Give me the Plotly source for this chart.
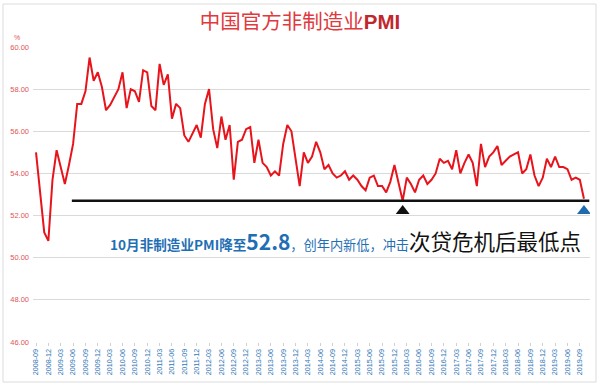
import plotly.graph_objects as go

# Monthly categories 2008-09 .. 2019-10
months = []
for y in range(2008, 2020):
    for m in range(1, 13):
        if (y == 2008 and m < 9) or (y == 2019 and m > 10):
            continue
        months.append(f"{y}-{m:02d}")

pmi_2008_2011 = [55.0, 53.1, 51.2, 50.8,
                 53.7, 55.1, 54.3, 53.5, 54.4, 55.4, 57.3, 57.3, 57.9, 59.5, 58.4, 58.8,
                 58.1, 57.0, 57.25, 57.6, 58.0, 58.8, 57.1, 58.0, 57.9, 57.4, 58.9, 58.8,
                 57.2, 57.0, 59.2, 58.2, 58.7, 56.6, 57.3, 57.1, 55.8, 55.5, 55.9, 56.3]
pmi_2012 = [55.7, 57.3, 58.0, 56.1, 55.2, 56.7, 55.6, 56.3, 53.7, 55.5, 55.6, 56.1]
pmi_2013 = [56.2, 54.5, 55.6, 54.5, 54.3, 53.9, 54.1, 53.9, 55.4, 56.3, 56.0, 54.6]
pmi_2014 = [53.4, 55.0, 54.5, 54.8, 55.5, 55.0, 54.2, 54.4, 54.0, 53.8, 53.9, 54.1]
pmi_2015 = [53.7, 53.9, 53.7, 53.4, 53.2, 53.8, 53.9, 53.4, 53.4, 53.1, 53.6, 54.4]
pmi_2016 = [53.5, 52.7, 53.8, 53.5, 53.1, 53.7, 53.9, 53.5, 53.7, 54.0, 54.7, 54.5]
pmi_2017 = [54.6, 54.2, 55.1, 54.0, 54.5, 54.9, 54.5, 53.4, 55.4, 54.3, 54.8, 55.0]
pmi_2018 = [55.3, 54.4, 54.6, 54.8, 54.9, 55.0, 54.0, 54.2, 54.9, 53.9, 53.4, 53.8]
pmi_2019 = [54.7, 54.3, 54.8, 54.3, 54.3, 54.2, 53.7, 53.8, 53.7, 52.8]

pmi = (pmi_2008_2011 + pmi_2012 + pmi_2013 + pmi_2014 + pmi_2015 +
       pmi_2016 + pmi_2017 + pmi_2018 + pmi_2019)

tick_labels = months[::3]
y_ticks = [46, 48, 50, 52, 54, 56, 58, 60]

low_level = 52.7
marker_months = ["2016-02", "2019-10"]
marker_level = 52.22

fig = go.Figure()
fig.add_trace(go.Scatter(x=months, y=pmi, mode="lines",
                         line=dict(color="#e8141c", width=2), hoverinfo="skip"))
# markers
fig.add_trace(go.Scatter(x=[marker_months[0]], y=[marker_level], mode="markers",
                         marker=dict(symbol="triangle-up", size=12, color="#111111"),
                         hoverinfo="skip"))
fig.add_trace(go.Scatter(x=[marker_months[1]], y=[marker_level], mode="markers",
                         marker=dict(symbol="triangle-up", size=12, color="#1f6bb0"),
                         hoverinfo="skip"))

fig.add_shape(type="line", xref="x", yref="y", x0=8.7, x1=134.3,
              y0=low_level, y1=low_level, line=dict(color="#111111", width=2.5))
# outer border
fig.add_shape(type="rect", xref="paper", yref="paper",
              x0=-30/557, x1=563/557, y0=(342-382)/295, y1=(342-4)/295,
              line=dict(color="#dcdcdc", width=1))

fig.update_layout(
    width=600, height=387,
    margin=dict(l=33, r=10, t=47, b=45, autoexpand=False),
    plot_bgcolor="white", paper_bgcolor="white",
    showlegend=False,
    font=dict(family="Arial, Liberation Sans, Noto Sans CJK SC"),
    title=dict(text="中国官方非制造业<b><span style='color:#c0282d'>PMI</span></b>",
               x=0.5, xanchor="center", y=1-22/387, yanchor="middle",
               font=dict(size=20.5, color="#e0393e",
                         family="Arial, Noto Sans CJK SC")),
    xaxis=dict(type="category", range=[-0.73, 134.47], automargin=False,
               tickmode="array", tickvals=tick_labels, ticktext=tick_labels,
               tickangle=-90, tickfont=dict(size=7.2, color="#2e75b6"),
               showgrid=False, ticks="outside", ticklen=3, tickcolor="#d0d0d0",
               showline=False, zeroline=False),
    yaxis=dict(range=[46, 60], tickvals=y_ticks, tickformat=".2f", automargin=False,
               tickfont=dict(size=7.5, color="#e05555"),
               gridcolor="#dadada", gridwidth=1, zeroline=False, showline=False,
               ticklabelstandoff=3),
    annotations=[
        dict(text="%", xref="paper", yref="paper", x=-16/557, y=(342-37)/295,
             xanchor="center", yanchor="middle",
             showarrow=False, font=dict(size=7, color="#e05555")),
        dict(text=("<span style='color:#1f6fb5;font-size:13.6px'><b>10月非制造业PMI降至</b></span>"
                   "<span style='color:#1f6fb5;font-size:21px'><b>52.8</b></span>"
                   "<span style='color:#1f6fb5;font-size:13.2px'>，创年内新低，冲击</span>"
                   "<span style='color:#111111;font-size:21.5px'>次贷危机后最低点</span>"),
             xref="paper", yref="y", x=(583-33)/557, y=50.8, xanchor="right",
             yanchor="middle", showarrow=False,
             font=dict(family="Noto Sans CJK SC", size=13, color="#1f6fb5")),
    ],
)

fig.write_html("out.html", config={"displayModeBar": False},
               post_script="document.body.style.margin='0px';")
